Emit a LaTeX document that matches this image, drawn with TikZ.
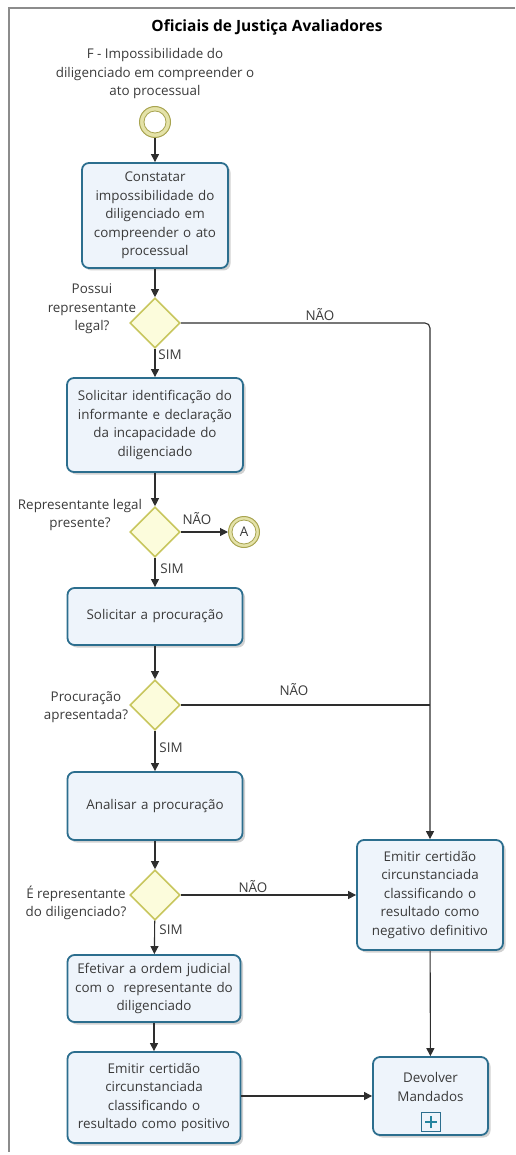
\documentclass[tikz,border=0pt]{standalone}
\usepackage{fontspec}
\setmainfont{Open Sans}
\usetikzlibrary{arrows.meta,shapes.geometric,shadows}

\definecolor{taskline}{HTML}{2C6E8E}
\definecolor{taskfill}{HTML}{EEF4FB}
\definecolor{gateline}{HTML}{C8C65E}
\definecolor{gatefill}{HTML}{FCFCDC}
\definecolor{evline}{HTML}{A8A450}
\definecolor{evring}{HTML}{E4E2A8}
\definecolor{txt}{HTML}{3A3A3A}
\definecolor{flow}{HTML}{2E2E2E}
\definecolor{frame}{HTML}{8C8C8C}

\tikzset{
  basefont/.style={font=\fontsize{13.4}{18.5}\selectfont, text=txt},
  task/.style={basefont, draw=taskline, line width=1.8pt, fill=taskfill,
    rounded corners=7pt, align=center, inner sep=2pt,
    drop shadow={shadow xshift=2.5pt, shadow yshift=-2.5pt, opacity=0.18, fill=black}},
  gateway/.style={diamond, aspect=1, draw=gateline, fill=gatefill, line width=1.6pt,
    minimum width=50pt, minimum height=50pt, inner sep=0pt},
  lbl/.style={basefont, align=center, inner sep=0pt},
  flowline/.style={draw=flow, line width=1.1pt},
  arrowline/.style={flowline, -{Triangle[length=8pt,width=8pt]}},
}

\begin{document}
\begin{tikzpicture}[x=1pt, y=-1pt]
\useasboundingbox (0,0) rectangle (515,1155);

% pool frame
\draw[frame, line width=1.6pt] (515,8) -- (9,8) -- (9,1152);

% title
\node[basefont, font=\fontsize{15.5}{18}\selectfont\bfseries, text=black] (title) at (267,27) {Oficiais de Justiça Avaliadores};

% start event and its label
\node[lbl] (startlbl) at (155,74) {F - Impossibilidade do\\diligenciado em compreender o\\ato processual};
\node[circle, draw=evline, line width=1pt, fill=evring, minimum size=31pt, inner sep=0pt] (start) at (155,122) {};
\node[circle, draw=evline, line width=0.8pt, fill=white, minimum size=22pt, inner sep=0pt] at (start) {};

% tasks
\node[task, minimum width=146pt, minimum height=105pt, text width=140pt] (t1) at (155,215.5)
  {Constatar\\impossibilidade do\\diligenciado em\\compreender o ato\\processual};
\node[task, minimum width=176pt, minimum height=94pt, text width=172pt] (t2) at (155,425)
  {Solicitar identificação do\\informante e declaração\\da incapacidade do\\diligenciado};
\node[task, minimum width=175pt, minimum height=57pt, text width=170pt] (t3) at (155,616.5)
  {Solicitar a procuração};
\node[task, minimum width=175pt, minimum height=68pt, text width=170pt] (t4) at (155,806)
  {Analisar a procuração};
\node[task, minimum width=173pt, minimum height=67pt, text width=169pt] (t5) at (154,988.5)
  {Efetivar a ordem judicial\\com o\ \ representante do\\diligenciado};
\node[task, minimum width=173pt, minimum height=91pt, text width=169pt] (t6) at (154,1097.5)
  {Emitir certidão\\circunstanciada\\classificando o\\resultado como positivo};
\node[task, minimum width=146pt, minimum height=110pt, text width=142pt] (neg) at (430,895)
  {Emitir certidão\\circunstanciada\\classificando o\\resultado como\\negativo definitivo};
\node[task, minimum width=115pt, minimum height=78pt, text width=110pt] (dev) at (430.5,1096)
  {Devolver\\Mandados\\\mbox{}};

% sub-process marker
\node[draw=taskline, line width=1pt, fill=taskfill, minimum size=19pt, inner sep=0pt] (plus) at (431,1122) {};
\draw[color=taskline!85!cyan, line width=2.6pt] ([yshift=-6pt]plus.center) -- ([yshift=6pt]plus.center)
  ([xshift=-6pt]plus.center) -- ([xshift=6pt]plus.center);

% gateways
\node[gateway] (g1) at (155,323) {};
\node[gateway] (g2) at (155,532) {};
\node[gateway] (g3) at (155,705) {};
\node[gateway] (g4) at (155,895) {};

% gateway questions
\node[lbl] (q1) at (92,309) {Possui\\representante\\legal?};
\node[lbl] (q2) at (80,515) {Representante legal\\presente?};
\node[lbl] (q3) at (86,707) {Procuração\\apresentada?};
\node[lbl] (q4) at (76,903) {É representante\\do diligenciado?};

% intermediate link event A
\node[circle, draw=evline, line width=1pt, fill=evring, minimum size=31pt, inner sep=0pt] (linkA) at (244,532) {};
\node[circle, draw=evline, line width=0.8pt, fill=white, minimum size=24pt, inner sep=0pt] (linkAin) at (linkA) {};
\node[lbl] at (linkA) {A};

% junction on the right column
\coordinate (c1) at (430,323);
\coordinate (c3) at (430,705);

% sequence flows
\draw[arrowline] (start) -- (t1);
\draw[arrowline] (t1) -- (g1);
\draw[arrowline] (g1) -- (t2);
\draw[arrowline] (t2) -- (g2);
\draw[arrowline] (g2) -- (t3);
\draw[arrowline] (t3) -- (g3);
\draw[arrowline] (g3) -- (t4);
\draw[arrowline] (t4) -- (g4);
\draw[arrowline] (g4) -- (t5);
\draw[arrowline] (t5) -- (t6);
\draw[arrowline] (g2) -- (linkA);
\draw[arrowline] (g4) -- (neg);
\draw[arrowline, rounded corners=5pt] (g1.east) -- (c1) -- (neg.north);
\draw[flowline] (g3.east) -- (c3);
\draw[arrowline] (neg) -- (dev);
\draw[arrowline] (t6.east |- dev.west) -- (dev.west);

% flow labels
\node[lbl] (n1) at (320,315) {NÃO};
\node[lbl] (n2) at (197,519) {NÃO};
\node[lbl] (n3) at (294,690) {NÃO};
\node[lbl] (n4) at (253,887) {NÃO};
\node[lbl] (s1) at (170,355) {SIM};
\node[lbl] (s2) at (172,569) {SIM};
\node[lbl] (s3) at (171,748) {SIM};
\node[lbl] (s4) at (171,930) {SIM};
\end{tikzpicture}
\end{document}
